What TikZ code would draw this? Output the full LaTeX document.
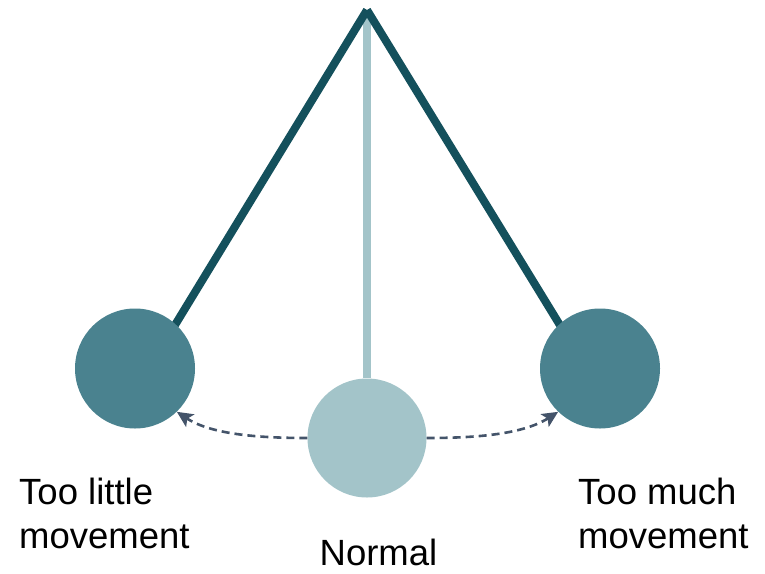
\documentclass[tikz,border=0pt]{standalone}
\usepackage{fontspec}
\setmainfont{Liberation Sans}
\usetikzlibrary{arrows.meta,backgrounds}
\definecolor{roddark}{RGB}{20,80,92}
\definecolor{balldark}{RGB}{74,130,143}
\definecolor{balllight}{RGB}{163,196,201}
\definecolor{swingcol}{RGB}{68,84,106}
\begin{document}
\begin{tikzpicture}[x=1pt,y=-1pt,
  ball/.style={circle,minimum size=120pt,inner sep=0pt,draw=none},
  rod/.style={line width=8pt,draw=roddark},
  lightrod/.style={line width=8pt,draw=balllight},
  swing/.style={draw=swingcol,line width=2.6pt,dash pattern=on 8pt off 5pt,
    -{Stealth[length=16pt,width=15pt,inset=3.5pt]}},
  lbl/.style={inner sep=0pt,anchor=base west,font=\fontsize{36.5}{42}\selectfont}]
\useasboundingbox (0,0) rectangle (765,573);
\node[ball,fill=balldark] (L) at (135,368.5) {};
\node[ball,fill=balldark] (R) at (600,368.5) {};
\node[ball,fill=balllight,minimum size=119pt] (M) at (367,438) {};
\coordinate (apex) at (367,10);
\coordinate (top) at (367,16);
\begin{scope}[on background layer]
  \draw[lightrod] (top) -- (M);
  \draw[rod] (apex) -- ([xshift=13.5pt]L.center);
  \draw[rod] (apex) -- ([xshift=-13.5pt]R.center);
\end{scope}
\draw[swing] (M.west) .. controls (262,438) and (212,435) .. (L.-46);
\draw[swing] (M.east) .. controls (472,438) and (522,435) .. (R.226);
\node[lbl] (t1) at (19,504) {Too little};
\node[lbl] (t2) at (19,548) {movement};
\node[lbl] (t3) at (578,504) {Too much};
\node[lbl] (t4) at (578,548) {movement};
\node[lbl,anchor=base] (t5) at (378.5,565) {Normal};
\end{tikzpicture}
\end{document}
